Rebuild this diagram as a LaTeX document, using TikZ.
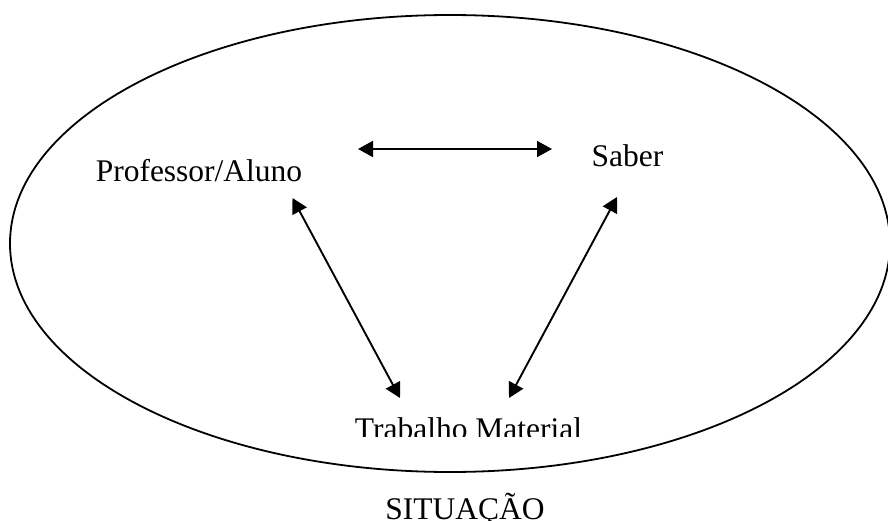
\documentclass[tikz,border=0pt]{standalone}
\usepackage{fontspec}
\setmainfont{Liberation Serif}
\usetikzlibrary{arrows.meta}
\tikzset{
  lbl/.style={inner sep=0pt, anchor=base, font=\fontsize{31.5}{36}\selectfont},
  rel/.style={line width=1.9pt, {Triangle[length=15pt,width=16pt]}-{Triangle[length=15pt,width=16pt]}},
  frame/.style={line width=1.8pt}
}
\begin{document}
\begin{tikzpicture}[x=1pt,y=-1pt]
\useasboundingbox (0,0) rectangle (888,521);
\draw[frame] (450,243.5) ellipse [x radius=440, y radius=228.5];
\node[lbl] (pa) at (199,182) {Professor/Aluno};
\node[lbl] (sb) at (627.5,167) {Saber};
\begin{scope}
  \clip (0,0) rectangle (888,436.5);
  \node[lbl] (tm) at (468.5,439) {Trabalho Material};
\end{scope}
\node[lbl] (st) at (465,519.5) {SITUAÇÃO};
\coordinate (h1) at (358,149);
\coordinate (h2) at (552,149);
\coordinate (l1) at (292.5,198);
\coordinate (l2) at (400,398);
\coordinate (r1) at (617,197);
\coordinate (r2) at (509,398);
\draw[rel] (h1) -- (h2);
\draw[rel] (l1) -- (l2);
\draw[rel] (r1) -- (r2);
\end{tikzpicture}
\end{document}
